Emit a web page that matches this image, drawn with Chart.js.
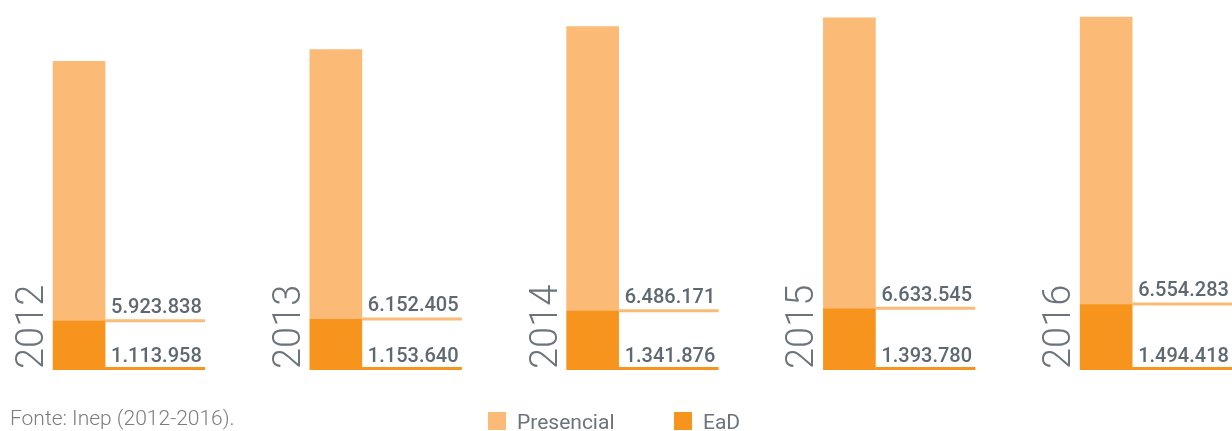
<!DOCTYPE html>
<html>
<head>
<meta charset="utf-8">
<script src="https://cdn.jsdelivr.net/npm/chart.js@4/dist/chart.umd.min.js"></script>
<style>
  html, body { margin: 0; padding: 0; background: #ffffff; }
  #wrap { width: 1232px; height: 431px; position: relative; }
</style>
</head>
<body>
<div id="wrap"><canvas id="chart" width="1232" height="431"></canvas></div>
<script>
// Matrículas por ano e modalidade
const years = [2012, 2013, 2014, 2015, 2016];
const presencial = [5923838, 6152405, 6486171, 6633545, 6554283];
const ead = [1113958, 1153640, 1341876, 1393780, 1494418];
const seriesLabels = ['Presencial', 'EaD'];
const sourceNote = 'Fonte: Inep (2012-2016).';

const COLOR_PRES = '#fcba77';
const COLOR_EAD = '#f7941e';
const TEXT_DARK = '#5e6870';
const TEXT_MID = '#6b747c';

const fmt = v => v.toLocaleString('pt-BR');

const annotate = {
  id: 'annotate',
  afterDatasetsDraw(chart) {
    const ctx = chart.ctx;
    const ys = chart.scales.y;
    const metaEad = chart.getDatasetMeta(0);
    ctx.save();
    years.forEach((yr, i) => {
      const barE = metaEad.data[i];
      const half = barE.width / 2;
      const left = barE.x - half, right = barE.x + half;
      const base = ys.getPixelForValue(0);
      const eadTop = barE.y;

      // year, rotated, to the left of the bar
      ctx.save();
      ctx.translate(left - 10, base - 1);
      ctx.rotate(-Math.PI / 2);
      ctx.font = '300 38px Roboto';
      ctx.fillStyle = TEXT_MID;
      ctx.textAlign = 'left';
      ctx.textBaseline = 'alphabetic';
      ctx.fillText(String(yr), 0, 0);
      ctx.restore();

      // value rules and labels to the right of the bar
      const ruleLen = 100;
      ctx.lineWidth = 3;
      ctx.strokeStyle = COLOR_PRES;
      ctx.beginPath();
      ctx.moveTo(right, eadTop - 0.5);
      ctx.lineTo(right + ruleLen, eadTop - 0.5);
      ctx.stroke();
      ctx.strokeStyle = COLOR_EAD;
      ctx.beginPath();
      ctx.moveTo(right, base - 1.5);
      ctx.lineTo(right + ruleLen, base - 1.5);
      ctx.stroke();

      ctx.font = '500 20px Roboto';
      ctx.fillStyle = TEXT_DARK;
      ctx.textAlign = 'left';
      ctx.textBaseline = 'alphabetic';
      ctx.fillText(fmt(presencial[i]), right + 6, eadTop - 8);
      ctx.fillText(fmt(ead[i]), right + 6, base - 8);
    });

    // legend
    const items = [
      { label: seriesLabels[0], color: COLOR_PRES, x: 488 },
      { label: seriesLabels[1], color: COLOR_EAD, x: 674 }
    ];
    ctx.font = '400 21px Roboto';
    items.forEach(it => {
      ctx.fillStyle = it.color;
      ctx.fillRect(it.x, 412, 18, 18);
      ctx.fillStyle = TEXT_MID;
      ctx.textBaseline = 'alphabetic';
      ctx.fillText(it.label, it.x + 29, 429);
    });

    // source
    ctx.font = '300 21px Roboto';
    ctx.fillStyle = '#7d7d7d';
    ctx.fillText(sourceNote, 10, 425);
    ctx.restore();
  }
};

new Chart(document.getElementById('chart'), {
  type: 'bar',
  data: {
    datasets: [
      {
        label: seriesLabels[1],
        data: years.map((y, i) => ({ x: y, y: ead[i] })),
        backgroundColor: COLOR_EAD,
        barThickness: 52
      },
      {
        label: seriesLabels[0],
        data: years.map((y, i) => ({ x: y, y: presencial[i] })),
        backgroundColor: COLOR_PRES,
        barThickness: 52
      }
    ]
  },
  options: {
    responsive: false,
    animation: false,
    layout: { padding: { top: 0, bottom: 61, left: 0, right: 0 } },
    plugins: { legend: { display: false }, tooltip: { enabled: false } },
    scales: {
      x: { type: 'linear', stacked: true, display: false, offset: false, min: 2011.692, max: 2016.49 },
      y: { stacked: true, display: false, min: 0, max: 8436000 }
    }
  },
  plugins: [annotate]
});
</script>
</body>
</html>
